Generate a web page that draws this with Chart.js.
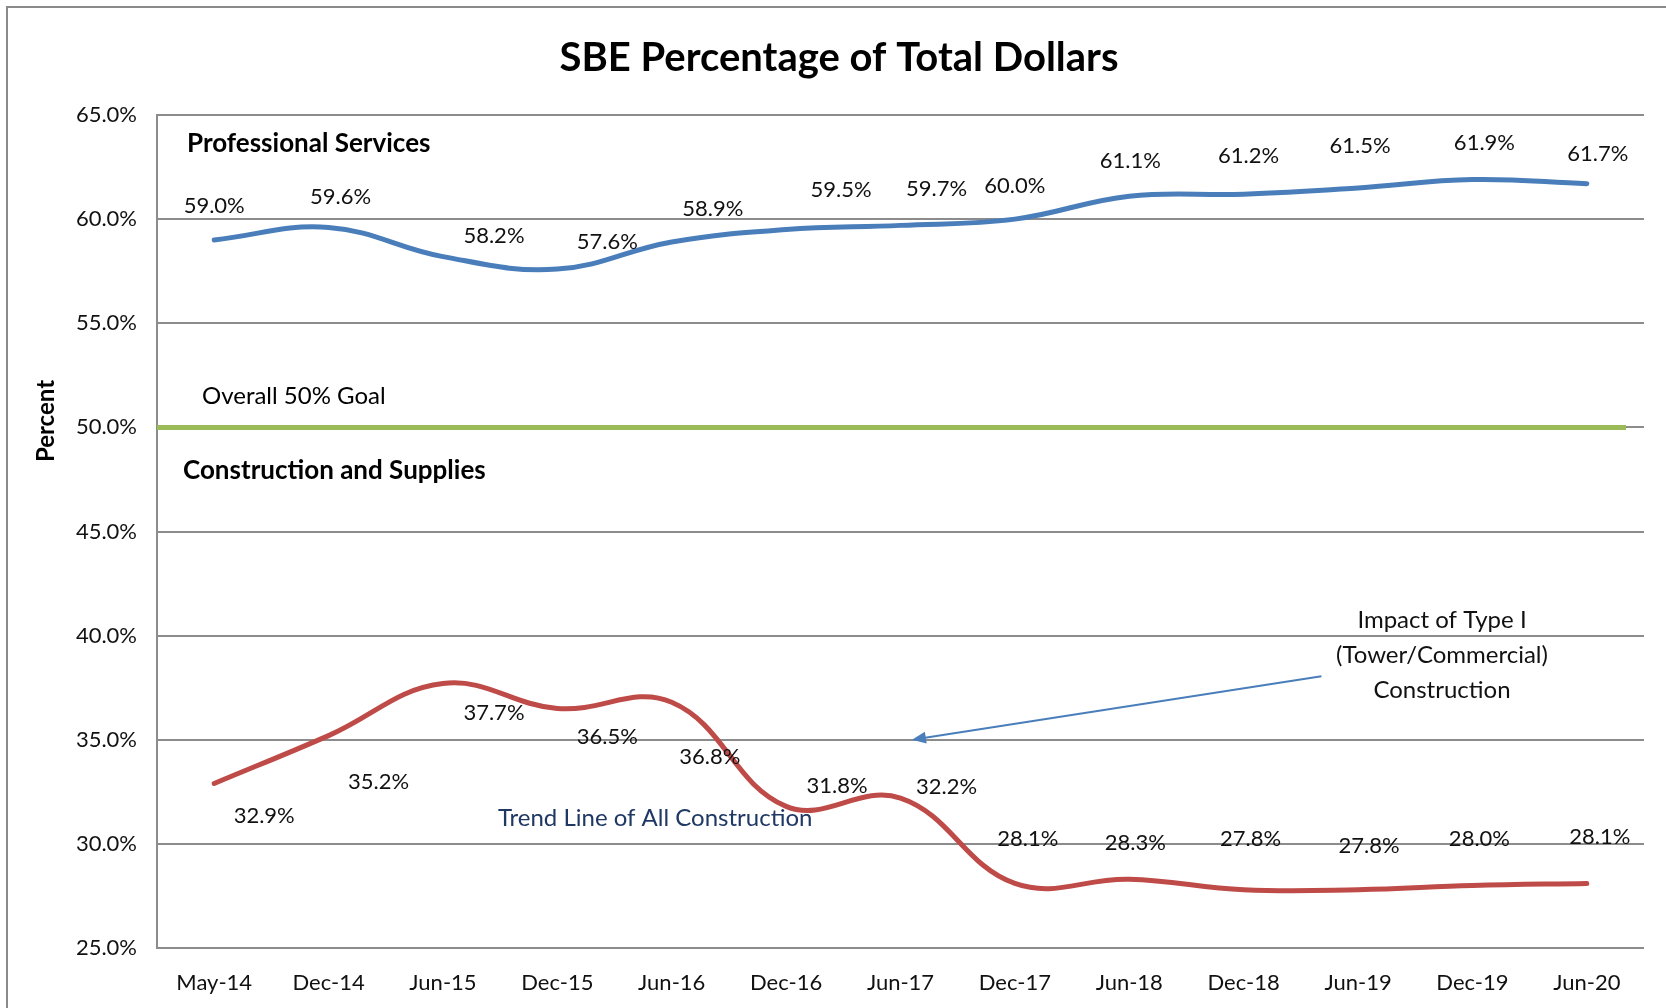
<!DOCTYPE html>
<html>
<head>
<meta charset="utf-8">
<script src="https://cdn.jsdelivr.net/npm/chart.js@4/dist/chart.umd.min.js"></script>
<style>
  html, body { margin: 0; padding: 0; background: #fff; }
  #wrap { width: 1666px; height: 1008px; position: relative; }
</style>
</head>
<body>
<div id="wrap"><canvas id="sbeChart" width="1666" height="1008"></canvas></div>
<script>
// chart data
const periods = ['May-14', 'Dec-14', 'Jun-15', 'Dec-15', 'Jun-16', 'Dec-16', 'Jun-17',
                 'Dec-17', 'Jun-18', 'Dec-18', 'Jun-19', 'Dec-19', 'Jun-20'];
const professionalServices = [59.0, 59.6, 58.2, 57.6, 58.9, 59.5, 59.7, 60.0, 61.1, 61.2, 61.5, 61.9, 61.7];
const constructionSupplies = [32.9, 35.2, 37.7, 36.5, 36.8, 31.8, 32.2, 28.1, 28.3, 27.8, 27.8, 28.0, 28.1];
const goalValue = 50;
const yTicks = [25, 30, 35, 40, 45, 50, 55, 60, 65];

// where the value labels sit relative to their point (pixels)
const profLabelOffsets = [[0,-34],[12,-31],[51,-21],[50,-27],[41,-33],[55,-40],[36,-36],
                          [0,-33],[1,-35],[5,-38],[2,-42],[12,-37],[11,-30]];
const consLabelOffsets = [[50,32],[50,46],[51,29],[50,28],[38,55],[51,-20],[46,-11],
                          [13,-45],[6,-36],[7,-51],[11,-44],[7,-47],[13,-47]];

const FONT = 'Lato, "Open Sans", sans-serif';
const GRID = '#8c8c8c';

const annotations = {
    id: 'annotations',
    beforeDraw(chart) {
        const ctx = chart.ctx;
        ctx.save();
        ctx.strokeStyle = '#8a8a8a';
        ctx.lineWidth = 2;
        ctx.beginPath();
        ctx.moveTo(7, chart.height);
        ctx.lineTo(7, 7);
        ctx.lineTo(chart.width, 7);
        ctx.stroke();
        ctx.restore();
    },
    beforeDatasetsDraw(chart) {
        const ctx = chart.ctx;
        const area = chart.chartArea;
        const y = chart.scales.y.getPixelForValue(goalValue);
        ctx.save();
        ctx.strokeStyle = '#9BBB59';
        ctx.lineWidth = 5;
        ctx.beginPath();
        ctx.moveTo(area.left, y);
        ctx.lineTo(area.right - 18, y);
        ctx.stroke();
        ctx.restore();
    },
    afterDatasetsDraw(chart) {
        const ctx = chart.ctx;
        const xs = chart.scales.x, ys = chart.scales.y;
        ctx.save();

        // value labels
        ctx.fillStyle = '#111';
        ctx.font = '22px ' + FONT;
        ctx.textAlign = 'center';
        ctx.textBaseline = 'middle';
        [profLabelOffsets, consLabelOffsets].forEach((offs, di) => {
            const meta = chart.getDatasetMeta(di);
            const values = chart.data.datasets[di].data;
            meta.data.forEach((pt, i) => {
                ctx.fillText(values[i].toFixed(1) + '%', pt.x + offs[i][0], pt.y + offs[i][1]);
            });
        });

        // title
        ctx.font = 'bold 40px ' + FONT;
        ctx.fillStyle = '#000';
        ctx.fillText('SBE Percentage of Total Dollars', 839, 58);

        // axis title
        ctx.save();
        ctx.translate(46, 421);
        ctx.rotate(-Math.PI / 2);
        ctx.font = 'bold 24px ' + FONT;
        ctx.fillText('Percent', 0, 0);
        ctx.restore();

        // section captions
        ctx.textAlign = 'left';
        ctx.font = 'bold 26px ' + FONT;
        ctx.fillText('Professional Services', 187, 144);
        ctx.fillText('Construction and Supplies', 183, 471);
        ctx.font = '24px ' + FONT;
        ctx.fillText('Overall 50% Goal', 202, 396);
        ctx.fillStyle = '#1F3864';
        ctx.fillText('Trend Line of All Construction', 498, 818);

        ctx.fillStyle = '#111';
        ctx.textAlign = 'center';
        ctx.fillText('Impact of Type I', 1442, 620);
        ctx.fillText('(Tower/Commercial)', 1442, 655);
        ctx.fillText('Construction', 1442, 690);

        // arrow to the construction dip
        const x0 = xs.getPixelForValue(9.68), y0 = ys.getPixelForValue(38.05);
        const x1 = xs.getPixelForValue(6.1), y1 = ys.getPixelForValue(35.0);
        const ang = Math.atan2(y1 - y0, x1 - x0);
        ctx.strokeStyle = '#4A7EBB';
        ctx.fillStyle = '#4A7EBB';
        ctx.lineWidth = 2;
        ctx.beginPath();
        ctx.moveTo(x0, y0);
        ctx.lineTo(x1 - 10 * Math.cos(ang), y1 - 10 * Math.sin(ang));
        ctx.stroke();
        ctx.beginPath();
        ctx.moveTo(x1, y1);
        ctx.lineTo(x1 - 14 * Math.cos(ang) + 6 * Math.sin(ang), y1 - 14 * Math.sin(ang) - 6 * Math.cos(ang));
        ctx.lineTo(x1 - 14 * Math.cos(ang) - 6 * Math.sin(ang), y1 - 14 * Math.sin(ang) + 6 * Math.cos(ang));
        ctx.closePath();
        ctx.fill();

        ctx.restore();
    }
};

new Chart(document.getElementById('sbeChart'), {
    type: 'line',
    data: {
        labels: periods,
        datasets: [
            {
                label: 'Professional Services',
                data: professionalServices,
                borderColor: '#4A7EBB',
                borderWidth: 5,
                tension: 0.4,
                pointRadius: 0,
                fill: false,
                borderCapStyle: 'round'
            },
            {
                label: 'Construction and Supplies',
                data: constructionSupplies,
                borderColor: '#BE4B48',
                borderWidth: 5,
                tension: 0.4,
                pointRadius: 0,
                fill: false,
                borderCapStyle: 'round'
            }
        ]
    },
    options: {
        responsive: false,
        animation: false,
        layout: { padding: { top: 115, right: 22, bottom: 0, left: 0 } },
        plugins: {
            legend: { display: false },
            tooltip: { enabled: false },
            title: { display: false }
        },
        scales: {
            x: {
                offset: true,
                grid: { display: false },
                border: { display: false },
                ticks: {
                    color: '#111',
                    font: { family: FONT, size: 22 },
                    padding: 14,
                    maxRotation: 0
                },
                afterFit(scale) { scale.height = 60; }
            },
            y: {
                min: 25,
                max: 65,
                afterBuildTicks(scale) { scale.ticks = yTicks.map(v => ({ value: v })); },
                grid: { color: GRID, lineWidth: 2, drawTicks: false },
                border: { color: GRID, width: 2 },
                ticks: {
                    color: '#111',
                    font: { family: FONT, size: 22 },
                    padding: 20,
                    callback: v => v.toFixed(1) + '%'
                },
                afterFit(scale) { scale.width = 157; }
            }
        }
    },
    plugins: [annotations]
});
</script>
</body>
</html>
